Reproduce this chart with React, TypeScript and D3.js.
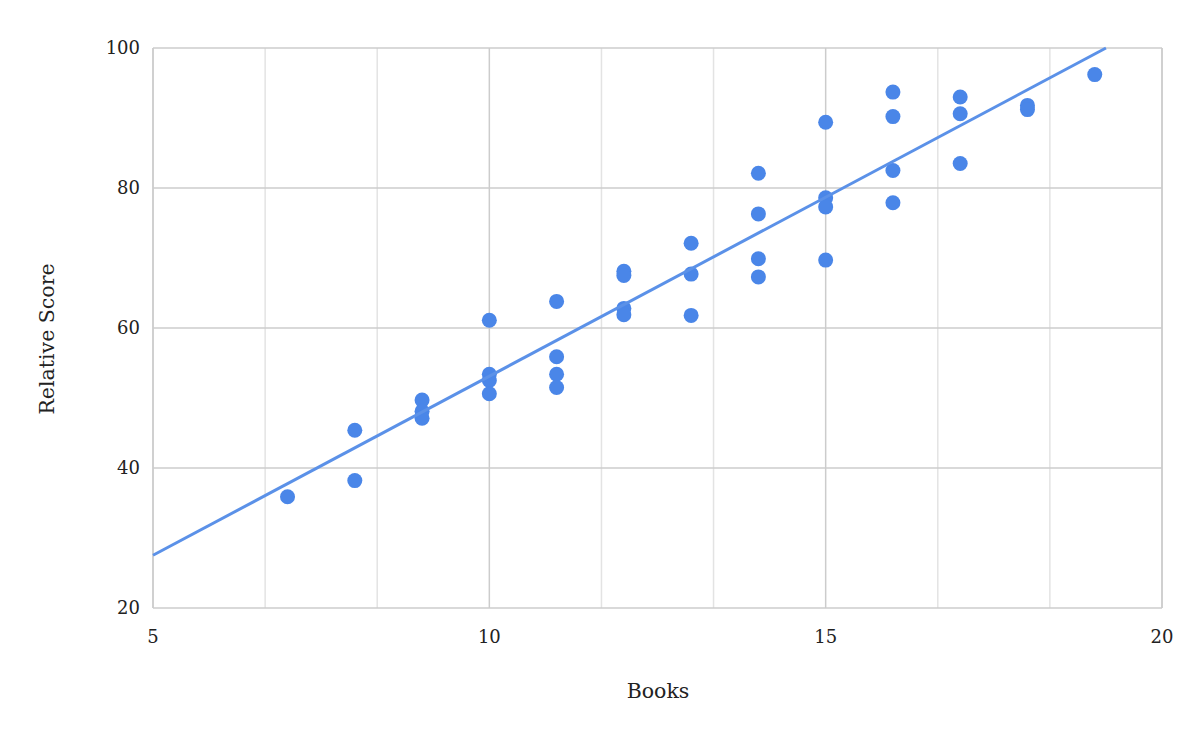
import React from "react";
import * as d3 from "d3";

const booksX = [7, 8, 8, 9, 9, 9, 10, 10, 10, 10, 11, 11, 11, 11, 12, 12, 12, 12, 13, 13, 13, 14, 14, 14, 14, 15, 15, 15, 15, 16, 16, 16, 16, 17, 17, 17, 18, 18, 19];
const scoreY = [35.9, 45.4, 38.2, 49.7, 48.1, 47.1, 61.1, 53.4, 52.5, 50.6, 63.8, 55.9, 53.4, 51.5, 68.1, 67.5, 62.8, 61.9, 72.1, 67.7, 61.8, 82.1, 76.3, 69.9, 67.3, 89.4, 78.6, 77.3, 69.7, 93.7, 90.2, 82.5, 77.9, 93.0, 90.6, 83.5, 91.8, 91.2, 96.2];
const xTicks = [5, 10, 15, 20];
const yTicks = [20, 40, 60, 80, 100];
const xMinor = [5, 6.667, 8.333, 10, 11.667, 13.333, 15, 16.667, 18.333, 20];

const W = 1200, H = 742;
const M = { left: 153, right: 1162, top: 48, bottom: 608 };
const FONT = "'DejaVu Serif', 'Liberation Serif', serif";

export default function App() {
  const x = d3.scaleLinear().domain([5, 20]).range([M.left, M.right]);
  const y = d3.scaleLinear().domain([20, 100]).range([M.bottom, M.top]);

  const n = booksX.length;
  const mx = d3.mean(booksX)!;
  const my = d3.mean(scoreY)!;
  let sxy = 0, sxx = 0;
  for (let i = 0; i < n; i++) {
    sxy += (booksX[i] - mx) * (scoreY[i] - my);
    sxx += (booksX[i] - mx) ** 2;
  }
  const slope = sxy / sxx;
  const inter = my - slope * mx;
  const x0 = 5;
  const x1 = Math.min(20, (100 - inter) / slope);
  const line = d3.line<number>().x((d) => x(d)).y((d) => y(inter + slope * d));

  return (
    <svg width={W} height={H} style={{ position: "absolute", left: 0, top: 0 }}>
      <rect width={W} height={H} fill="#fff" />
      {xMinor.map((v, i) => (
        <line key={"vm" + i} x1={x(v)} x2={x(v)} y1={M.top} y2={M.bottom}
          stroke={xTicks.includes(Math.round(v * 1000) / 1000) ? "#cccccc" : "#e3e3e3"} strokeWidth={1.5} />
      ))}
      {yTicks.map((v) => (
        <line key={"h" + v} x1={M.left} x2={M.right} y1={y(v)} y2={y(v)} stroke="#cccccc" strokeWidth={1.5} />
      ))}
      <line x1={M.left} x2={M.left} y1={M.top} y2={M.bottom} stroke="#cccccc" strokeWidth={1.5} />
      <line x1={M.right} x2={M.right} y1={M.top} y2={M.bottom} stroke="#cccccc" strokeWidth={1.5} />
      <g clipPath="url(#clip)">
        {booksX.map((v, i) => (
          <circle key={i} cx={x(v)} cy={y(scoreY[i])} r={7.5} fill="#4a86e8" />
        ))}
      </g>
      <defs>
        <clipPath id="clip">
          <rect x={M.left} y={M.top} width={M.right - M.left} height={M.bottom - M.top} />
        </clipPath>
      </defs>
      <path d={line([x0, x1])!} stroke="#5b91e8" strokeWidth={3} fill="none" />
      {xTicks.map((v) => (
        <text key={"xt" + v} x={x(v)} y={643} textAnchor="middle" fontFamily={FONT} fontSize={18} fill="#222">{v}</text>
      ))}
      {yTicks.map((v) => (
        <text key={"yt" + v} x={140} y={y(v) + 6} textAnchor="end" fontFamily={FONT} fontSize={18} fill="#222">{v}</text>
      ))}
      <text x={658} y={698} textAnchor="middle" fontFamily={FONT} fontSize={20.5} fill="#222">Books</text>
      <text transform={`translate(54,339) rotate(-90)`} textAnchor="middle" fontFamily={FONT} fontSize={20.5} fill="#222">Relative Score</text>
    </svg>
  );
}
